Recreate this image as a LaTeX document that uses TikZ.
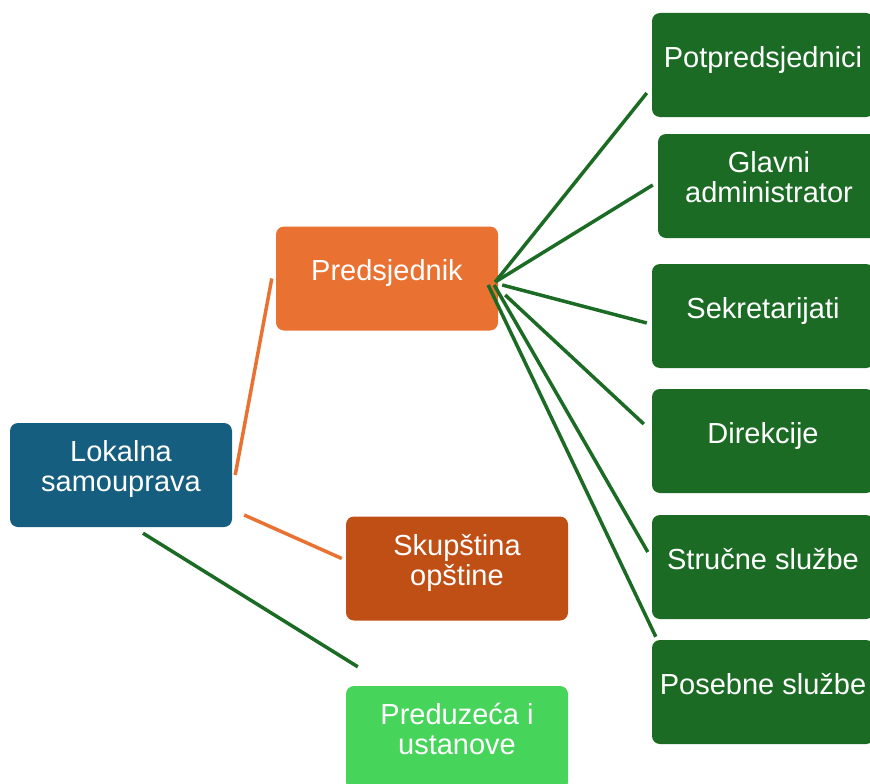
\documentclass[tikz,border=0pt]{standalone}
\usepackage{fontspec}
\setmainfont{Liberation Sans}
\definecolor{lokblue}{RGB}{22,94,128}
\definecolor{predorange}{RGB}{233,113,50}
\definecolor{skuprust}{RGB}{192,79,21}
\definecolor{prlight}{RGB}{71,212,90}
\definecolor{sluzgreen}{RGB}{27,107,37}
\tikzset{
    block/.style = {rectangle, rounded corners=8pt, inner sep=0pt,
        minimum height=104pt, minimum width=222pt, align=center,
        text=white, font=\fontsize{29}{30}\selectfont,
        execute at begin node={\rule[-18pt]{0pt}{40pt}}},
    orangeline/.style = {draw=predorange, line width=3.5pt},
    greenline/.style = {draw=sluzgreen, line width=3.5pt}
}

\begin{document}
\begin{tikzpicture}[x=1pt, y=-1pt]
    \useasboundingbox (0,0) rectangle (870,784);
    \node [block, fill=lokblue] (lok) at (121,475) {Lokalna\\samouprava};
    \node [block, fill=predorange] (pred) at (387,278.5) {Predsjednik};
    \node [block, fill=skuprust] (skup) at (457,568.5) {Skupština\\opštine};
    \node [block, fill=prlight] (predu) at (457,738) {Preduzeća i\\ustanove};
    \node [block, fill=sluzgreen] (potp) at (763,65) {Potpredsjednici};
    \node [block, fill=sluzgreen] (glav) at (769,186) {Glavni\\administrator};
    \node [block, fill=sluzgreen] (sekr) at (763,316) {Sekretarijati};
    \node [block, fill=sluzgreen] (dir) at (763,441) {Direkcije};
    \node [block, fill=sluzgreen] (stru) at (763,567) {Stručne službe};
    \node [block, fill=sluzgreen] (pos) at (763,692) {Posebne službe};
    % lokalna -> prvi nivo
    \draw [orangeline] ([shift={(3,0)}]lok.east) -- ([shift={(-4,0)}]pred.west);
    \draw [orangeline] ([shift={(12,40)}]lok.east) -- ([shift={(-4,-10)}]skup.west);
    \draw [greenline] ([shift={(22,6)}]lok.south) -- ([shift={(12,-19)}]predu.north west);
    % predsjednik -> sluzbe
    \draw [greenline] ([shift={(-3,3.5)}]pred.east) -- ([shift={(-5,28)}]potp.west);
    \draw [greenline] ([shift={(-3,3.5)}]pred.east) -- ([shift={(-5,-1)}]glav.west);
    \draw [greenline] ([shift={(4,6.5)}]pred.east) -- ([shift={(-5,7)}]sekr.west);
    \draw [greenline] ([shift={(7,16.5)}]pred.east) -- ([shift={(-8,-17)}]dir.west);
    \draw [greenline] ([shift={(-4,6.5)}]pred.east) -- ([shift={(-4,-15)}]stru.west);
    \draw [greenline] ([shift={(-10,6.5)}]pred.east) -- ([shift={(4,-3)}]pos.north west);
\end{tikzpicture}
\end{document}
